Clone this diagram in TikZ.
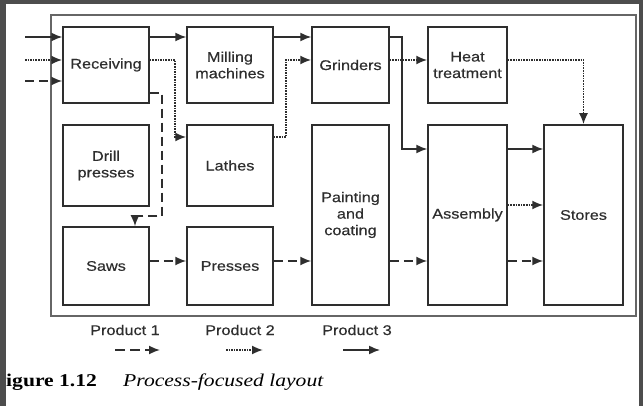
\documentclass[tikz,border=0pt]{standalone}
\usepackage{fontspec}
\setmainfont{Liberation Serif}[FakeStretch=1.2]
\newfontfamily\boxfont{Liberation Sans}[FakeStretch=1.16,FakeBold=0.4]
\usetikzlibrary{arrows.meta}
\definecolor{inkc}{HTML}{2E2E2E}
\definecolor{framec}{HTML}{666666}
\definecolor{darkc}{HTML}{4D4D4D}
\tikzset{
  dept/.style={draw=inkc, line width=1.5pt, inner sep=0pt, align=center,
    font=\boxfont\fontsize{14}{16.5}\selectfont, text=inkc},
  lbl/.style={font=\boxfont\fontsize{14}{16.5}\selectfont, text=inkc, inner sep=0pt},
  flow/.style={draw=inkc, line width=1.5pt, -{Latex[length=11pt,width=9pt]}},
  solidflow/.style={flow},
  dottedflow/.style={flow, line width=1.8pt, dash pattern=on 1.6pt off 1.0pt},
  dashedflow/.style={flow, line width=1.7pt, dash pattern=on 9pt off 5pt},
}
\begin{document}
\begin{tikzpicture}[x=1pt,y=-1pt]
\useasboundingbox (0,0) rectangle (643,406);
\fill[white] (0,0) rectangle (643,406);
% outer frame
\draw[framec, line width=1.1pt] (51,15) rectangle (636,316);
% departments
\node[dept, minimum width=86pt, minimum height=76pt] (rec) at (106,65) {Receiving};
\node[dept, minimum width=86pt, minimum height=76pt] (mil) at (230,65) {Milling\\machines};
\node[dept, minimum width=77pt, minimum height=76pt] (grd) at (350.5,65) {Grinders};
\node[dept, minimum width=79pt, minimum height=76pt] (heat) at (467.5,65) {Heat\\treatment};
\node[dept, minimum width=86pt, minimum height=81pt] (drl) at (106,165.5) {Drill\\presses};
\node[dept, minimum width=86pt, minimum height=81pt] (lat) at (230,165.5) {Lathes};
\node[dept, minimum width=86pt, minimum height=78pt] (saw) at (106,266) {Saws};
\node[dept, minimum width=86pt, minimum height=78pt] (prs) at (230,266) {Presses};
\node[dept, minimum width=77pt, minimum height=180pt] (pnt) at (350.5,215) {Painting\\and\\coating};
\node[dept, minimum width=79pt, minimum height=180pt] (asm) at (467.5,215) {Assembly};
\node[dept, minimum width=79pt, minimum height=180pt] (sto) at (583.5,215) {Stores};
% routing coordinates
\coordinate (in1) at (25,37);
\coordinate (in2) at (25,60);
\coordinate (in3) at (25,81);
\coordinate (g1) at (402,37);
\coordinate (s1) at (402,149);
\coordinate (d1) at (175,60);
\coordinate (d2) at (286,137);
\coordinate (t2) at (0,205);
\coordinate (a1) at (162,93);
\coordinate (a2) at (162,216);
\coordinate (a3) at (135,216);
\coordinate (r3) at (0,261);
% inputs
\draw[solidflow] (in1) -- (in1 -| rec.west);
\draw[dottedflow] (in2) -- (in2 -| rec.west);
\draw[dashedflow] (in3) -- (in3 -| rec.west);
% product 3 (solid)
\draw[solidflow] (rec.east |- in1) -- (mil.west |- in1);
\draw[solidflow] (mil.east |- in1) -- (grd.west |- in1);
\draw[solidflow] (grd.east |- g1) -- (g1) -- (s1) -- (asm.west |- s1);
\draw[solidflow] (asm.east |- s1) -- (sto.west |- s1);
% product 2 (dotted)
\draw[dottedflow] (rec.east |- in2) -- (d1) |- (lat.west |- d2);
\draw[dottedflow] (lat.east |- d2) -- (d2) |- (grd.west |- in2);
\draw[dottedflow] (grd.east |- in2) -- (heat.west |- in2);
\draw[dottedflow] (heat.east |- in2) -| (sto.north);
\draw[dottedflow] (asm.east |- t2) -- (sto.west |- t2);
% product 1 (dashed)
\draw[dashedflow] (rec.east |- a1) -- (a1) -- (a2) -- (a3) -- (a3 |- saw.north);
\draw[dashedflow] (saw.east |- r3) -- (prs.west |- r3);
\draw[dashedflow] (prs.east |- r3) -- (pnt.west |- r3);
\draw[dashedflow] (pnt.east |- r3) -- (asm.west |- r3);
\draw[dashedflow] (asm.east |- r3) -- (sto.west |- r3);
% legend
\node[lbl] (p1) at (125,330) {Product 1};
\node[lbl] (p2) at (240,330) {Product 2};
\node[lbl] (p3) at (357,330) {Product 3};
\coordinate (l1a) at (115,350); \coordinate (l1b) at (160,350);
\coordinate (l2a) at (226,350); \coordinate (l2b) at (263,350);
\coordinate (l3a) at (343,350); \coordinate (l3b) at (380,350);
\draw[dashedflow, dash pattern=on 10pt off 5pt] (l1a) -- (l1b);
\draw[dottedflow] (l2a) -- (l2b);
\draw[solidflow] (l3a) -- (l3b);
% caption
\node[anchor=west, inner sep=0pt, font=\fontsize{18}{20}\selectfont\bfseries] (cap1) at (6,382) {igure 1.12};
\node[anchor=west, inner sep=0pt, font=\fontsize{18}{20}\selectfont\itshape] (cap2) at (123,382) {Process-focused layout};
% dark scan borders
\fill[darkc] (0,0) rectangle (643,4);
\fill[darkc] (0,0) rectangle (6,406);
\fill[darkc] (639,0) rectangle (643,406);
\end{tikzpicture}
\end{document}
